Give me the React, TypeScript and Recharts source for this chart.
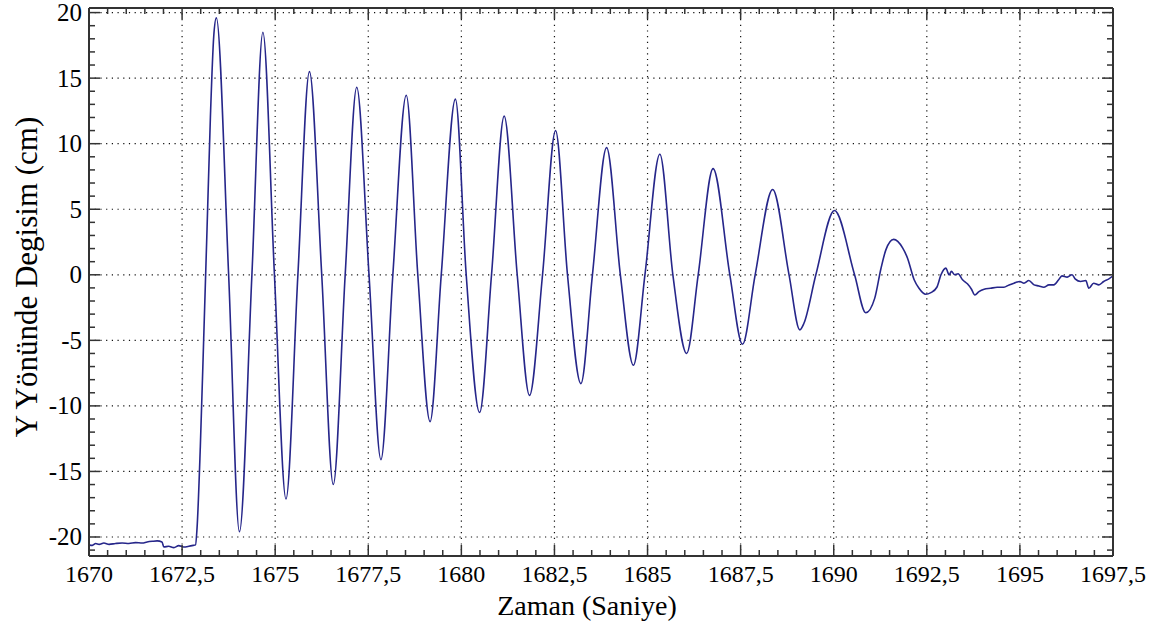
import React from 'react';
import { LineChart, Line, XAxis, YAxis, ReferenceLine } from 'recharts';

// ---- data (time in s, displacement in cm) ----
const preTime = [1670.0, 1670.09, 1670.18, 1670.27, 1670.4, 1670.54, 1670.71, 1670.89, 1671.07, 1671.25, 1671.43, 1671.56, 1671.7, 1671.83, 1671.96, 1672.01, 1672.14, 1672.28, 1672.41, 1672.54, 1672.68, 1672.8, 1672.86];
const preDisp = [-20.6, -20.64, -20.5, -20.56, -20.46, -20.56, -20.5, -20.46, -20.5, -20.43, -20.46, -20.38, -20.33, -20.3, -20.38, -20.76, -20.71, -20.81, -20.66, -20.76, -20.71, -20.64, -20.6];

const oscTime = [
  1672.9, 1672.99, 1673.08, 1673.17, 1673.26, 1673.35, 1673.42,
  1673.75, 1674.04, 1674.375, 1674.67, 1674.98, 1675.29, 1675.61, 1675.92,
  1676.25, 1676.56, 1676.88, 1677.19, 1677.52, 1677.84, 1678.16, 1678.52,
  1678.83, 1679.16, 1679.46, 1679.84, 1680.13, 1680.49, 1680.81, 1681.15,
  1681.5, 1681.83, 1682.18, 1682.53, 1682.85, 1683.21, 1683.52, 1683.9,
  1684.27, 1684.62, 1684.93, 1685.33, 1685.68, 1686.05, 1686.36, 1686.76,
  1687.21, 1687.55, 1687.89, 1688.36, 1688.8, 1689.09, 1689.2, 1689.52,
  1690.02, 1690.56, 1690.86, 1691.1,
];
const oscDisp = [
  -19.4, -13.1, -4.9, 3.5, 12.0, 18.2, 19.6,
  0, -19.6, 0, 18.5, 0, -17.1, 0, 15.5,
  0, -16.0, 0, 14.3, 0, -14.1, 0, 13.7,
  0, -11.2, 0, 13.4, 0, -10.5, 0, 12.1,
  0, -9.2, 0, 11.0, 0, -8.3, 0, 9.7,
  0, -6.9, 0, 9.2, 0, -6.0, 0, 8.1,
  0, -5.3, 0, 6.5, 0, -4.2, -3.7, 0,
  4.9, 0, -2.9, -1.8,
];

const tailTime = [
  1691.27, 1691.4, 1691.61, 1691.85, 1691.98, 1692.16, 1692.29, 1692.47, 1692.61, 1692.77,
  1692.88, 1693.01, 1693.1, 1693.16, 1693.25, 1693.34, 1693.46, 1693.59, 1693.7, 1693.79,
  1693.9, 1694.04, 1694.21, 1694.39, 1694.57, 1694.71, 1694.84, 1695.0, 1695.11, 1695.24,
  1695.38, 1695.51, 1695.64, 1695.78, 1695.91, 1696.04, 1696.13, 1696.27, 1696.4, 1696.49,
  1696.63, 1696.77, 1696.85, 1696.98, 1697.12, 1697.25, 1697.38, 1697.5,
];
const tailDisp = [
  0.5, 1.9, 2.7, 2.05, 1.28, -0.38, -1.03, -1.49, -1.36, -0.95,
  0, 0.51, 0, 0.26, 0, 0.08, -0.38, -0.69, -1.1, -1.54,
  -1.28, -1.1, -1.03, -0.95, -0.95, -0.77, -0.64, -0.51, -0.64, -0.44,
  -0.77, -0.85, -0.95, -0.77, -0.77, -0.38, -0.08, -0.18, 0, -0.33,
  -0.51, -0.44, -1.03, -0.64, -0.77, -0.51, -0.33, -0.08,
];

const xMajor = [1670, 1672.5, 1675, 1677.5, 1680, 1682.5, 1685, 1687.5, 1690, 1692.5, 1695, 1697.5];
const yMajor = [-20, -15, -10, -5, 0, 5, 10, 15, 20];
const xGrid = [1672.5, 1675, 1677.5, 1680, 1682.5, 1685, 1687.5, 1690, 1692.5, 1695];
const xDomain: [number, number] = [1670, 1697.5];
const yDomain: [number, number] = [-21.45, 20.35];

const xAll: number[] = [];
for (let i = 0; i <= 55; i++) xAll.push(1670 + i * 0.5);
const yAll: number[] = [];
for (let v = -21; v <= 20; v++) yAll.push(v);

const data = [
  ...preTime.map((t, i) => ({ t, v: preDisp[i] })),
  ...oscTime.map((t, i) => ({ t, v: oscDisp[i] })),
  ...tailTime.map((t, i) => ({ t, v: tailDisp[i] })),
];

const FONT = 'Liberation Serif, Times New Roman, serif';
const AX = '#333';
const isMaj = (arr: number[], v: number) => arr.some((m) => Math.abs(m - v) < 1e-6);
const fmt = (v: number) => String(v).replace('.', ',');

const BottomTick = (p: any) => {
  const { x, y, payload } = p;
  const major = isMaj(xMajor, payload.value);
  return (
    <g>
      <line x1={x} x2={x} y1={y} y2={y - (major ? 11 : 6)} stroke={AX} strokeWidth={1.5} />
      {major && (
        <text x={x} y={y + 26} textAnchor="middle" fontFamily={FONT} fontSize={24} fill="#000">
          {fmt(payload.value)}
        </text>
      )}
    </g>
  );
};
const TopTick = (p: any) => {
  const { x, y, payload } = p;
  const major = isMaj(xMajor, payload.value);
  return <line x1={x} x2={x} y1={y} y2={y + (major ? 11 : 6)} stroke={AX} strokeWidth={1.5} />;
};
const LeftTick = (p: any) => {
  const { x, y, payload } = p;
  const major = isMaj(yMajor, payload.value);
  return (
    <g>
      <line x1={x} x2={x + (major ? 11 : 6)} y1={y} y2={y} stroke={AX} strokeWidth={1.5} />
      {major && (
        <text x={x - 7} y={y + 8.5} textAnchor="end" fontFamily={FONT} fontSize={25} fill="#000">
          {String(payload.value)}
        </text>
      )}
    </g>
  );
};
const RightTick = (p: any) => {
  const { x, y, payload } = p;
  const major = isMaj(yMajor, payload.value);
  return <line x1={x} x2={x - (major ? 11 : 6)} y1={y} y2={y} stroke={AX} strokeWidth={1.5} />;
};

export default function App() {
  return (
    <div style={{ position: 'absolute', left: 0, top: 0, width: 1175, height: 632, background: '#fff' }}>
      <LineChart width={1175} height={632} data={data} margin={{ top: 0, right: 2, bottom: 46, left: 29 }}>
        {xGrid.map((v) => (
          <ReferenceLine key={'gx' + v} x={v} xAxisId="b" yAxisId="l" stroke="#111" strokeDasharray="1.2 4.5" strokeWidth={1.2} />
        ))}
        {yMajor.map((v) => (
          <ReferenceLine key={'gy' + v} y={v} xAxisId="b" yAxisId="l" stroke="#111" strokeDasharray="1.2 4.5" strokeWidth={1.2} />
        ))}
        <XAxis xAxisId="b" dataKey="t" type="number" domain={xDomain} allowDataOverflow ticks={xAll} interval={0}
          height={30} tickSize={0} tickMargin={0} tickLine={false} tick={<BottomTick />}
          axisLine={{ stroke: AX, strokeWidth: 2 }} />
        <XAxis xAxisId="t" orientation="top" dataKey="t" type="number" domain={xDomain} allowDataOverflow ticks={xAll} interval={0}
          height={8} tickSize={0} tickMargin={0} tickLine={false} tick={<TopTick />}
          axisLine={{ stroke: AX, strokeWidth: 2 }} />
        <YAxis yAxisId="l" type="number" domain={yDomain} allowDataOverflow ticks={yAll} interval={0}
          width={60} tickSize={0} tickMargin={0} tickLine={false} tick={<LeftTick />}
          axisLine={{ stroke: AX, strokeWidth: 2 }} />
        <YAxis yAxisId="r" orientation="right" type="number" domain={yDomain} allowDataOverflow ticks={yAll} interval={0}
          width={60} tickSize={0} tickMargin={0} tickLine={false} tick={<RightTick />}
          axisLine={{ stroke: AX, strokeWidth: 2 }} />
        <Line xAxisId="b" yAxisId="l" type="monotone" dataKey="v" stroke="#26268a" strokeWidth={1.6}
          dot={false} activeDot={false} isAnimationActive={false} />
        <text x={587} y={615} textAnchor="middle" fontFamily={FONT} fontSize={28} fill="#000">Zaman (Saniye)</text>
        <text transform="translate(26,277) rotate(-90)" textAnchor="middle" dy="0.35em" fontFamily={FONT} fontSize={31} fill="#000">
          Y Yönünde Degisim (cm)
        </text>
      </LineChart>
    </div>
  );
}
